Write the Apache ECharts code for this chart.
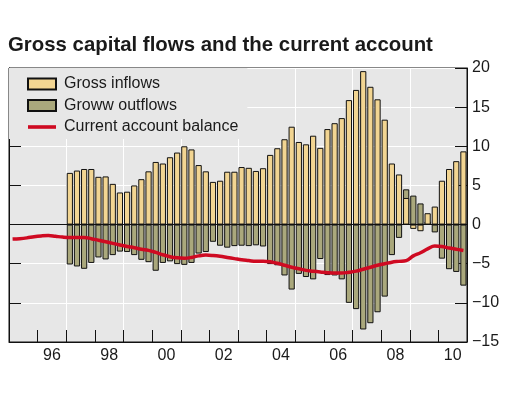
<!DOCTYPE html>
<html>
<head>
<meta charset="utf-8">
<script src="https://cdn.jsdelivr.net/npm/echarts@6/dist/echarts.min.js"></script>
<style>
html,body{margin:0;padding:0;background:#fff;}
#chart{width:512px;height:395px;}
</style>
</head>
<body>
<div id="chart"></div>
<script>
// ---- data ----
const years = ['1995','1996','1997','1998','1999','2000','2001','2002','2003','2004','2005','2006','2007','2008','2009','2010'];
const yearLabels = ['95','96','97','98','99','00','01','02','03','04','05','06','07','08','09','10'];
const quarterNames = ['Q1','Q2','Q3','Q4'];
const barStart = '1997Q1';

// Gross inflows, 1997Q1 - 2010Q4 (% of GDP)
const grossInflows = [
  6.6, 6.9, 7.1, 7.1,   6.1, 6.15, 5.2, 4.1,   4.2, 5.0, 5.8, 6.8,   8.0, 7.8, 8.6, 9.2,
  10.0, 9.6, 7.6, 6.8,  5.45, 5.6, 6.75, 6.75, 7.35, 7.25, 6.85, 7.2, 8.9, 9.75, 10.9, 12.5,
  10.55, 10.25, 11.35, 9.8, 12.2, 12.95, 13.6, 15.9, 17.2, 19.6, 17.6, 16.0, 13.4, 7.8, 6.4, 3.4,
  -0.55, -0.85, 1.45, 2.3, 5.6, 7.1, 8.1, 9.35
];
// Gross outflows, 1997Q1 - 2010Q4
const grossOutflows = [
  -5.1, -5.35, -5.65, -4.9,  -4.2, -4.45, -3.9, -3.45,  -3.5, -3.9, -4.5, -4.8,  -5.9, -4.9, -4.7, -5.05,
  -5.15, -4.9, -3.7, -3.5,  -2.2, -2.7, -2.95, -2.75,  -2.7, -2.75, -2.65, -2.8,  -5.05, -5.2, -6.5, -8.3,
  -6.3, -6.7, -7.0, -4.4,  -6.45, -6.5, -7.0, -10.0,  -10.8, -13.4, -12.6, -11.2,  -9.2, -3.9, -1.7, 4.5,
  3.7, 2.7, 0.4, -1.0,  -4.35, -5.7, -6.05, -7.8
];
// Current account balance, 1995Q1 - 2010Q4
const currentAccount = [
  -1.85, -1.8, -1.7, -1.55,  -1.45, -1.4, -1.5, -1.6,  -1.65, -1.65, -1.65, -1.8,  -2.0, -2.2, -2.4, -2.6,
  -2.8, -2.95, -3.15, -3.3,  -3.55, -3.85, -4.1, -4.25,  -4.3, -4.2, -4.0, -3.9,  -3.95, -4.05, -4.2, -4.35,
  -4.5, -4.6, -4.7, -4.7,  -4.75, -4.95, -5.2, -5.45,  -5.65, -5.85, -5.95, -6.05,  -6.15, -6.2, -6.2, -6.1,
  -5.95, -5.7, -5.45, -5.2,  -5.0, -4.8, -4.7, -4.6,  -4.0, -3.6, -3.1, -2.75,  -2.8, -3.0, -3.15, -3.3
];

// ---- build ----
const quarters = [];
years.forEach(y => quarterNames.forEach(q => quarters.push(y + q)));
const pad = quarters.indexOf(barStart);
const padArr = new Array(pad).fill(null);
const inflowData = padArr.concat(grossInflows);
const outflowData = padArr.concat(grossOutflows);

const W = 512, H = 395;
const GRID = {left: 9, right: 45, top: 68, bottom: 53};
const PLOT_BG = '#e7e7e7';
const FONT = 'Liberation Sans, Arial, sans-serif';
const TXT = '#1a1a1a';
const RED = '#cf0a22';
const TICK_LEN = 12;
const chart = echarts.init(document.getElementById('chart'), null, {renderer: 'canvas', width: W, height: H});

chart.setOption({
  animation: false,
  backgroundColor: '#ffffff',
  graphic: [{
    // plot-area background, drawn beneath axes and grid lines
    type: 'rect', z: -10, silent: true,
    left: GRID.left, top: GRID.top,
    shape: {width: W - GRID.left - GRID.right, height: H - GRID.top - GRID.bottom},
    style: {fill: PLOT_BG}
  }],
  title: {
    text: 'Gross capital flows and the current account',
    left: 3, top: 30,
    textStyle: {fontFamily: FONT, fontSize: 20.4, fontWeight: 'bold', color: TXT}
  },
  legend: {
    data: [
      {name: 'Gross inflows', icon: 'rect'},
      {name: 'Groww outflows', icon: 'rect'},
      {name: 'Current account balance', icon: 'path://M0,0 L28,0 L28,3.6 L0,3.6 Z', itemStyle: {color: RED, borderWidth: 0}, lineStyle: {width: 0}}
    ],
    orient: 'vertical',
    left: 9, top: 68, z: 5,
    padding: [8, 9, 4, 18],
    backgroundColor: PLOT_BG,
    itemWidth: 28, itemHeight: 11, itemGap: 5.5,
    textStyle: {fontFamily: FONT, fontSize: 16, color: TXT, padding: [0, 0, 0, 3]}
  },
  grid: {
    left: GRID.left, right: GRID.right, top: GRID.top, bottom: GRID.bottom,
    show: true, backgroundColor: 'transparent', borderColor: '#111', borderWidth: 1
  },
  xAxis: [
    {
      // quarterly axis: carries the marks, year ticks and two-yearly white grid lines
      type: 'category', data: quarters, boundaryGap: true, position: 'bottom',
      axisLine: {show: true, onZero: false, lineStyle: {color: '#111', width: 1}},
      axisTick: {show: true, inside: true, length: TICK_LEN, interval: 3, lineStyle: {color: '#111', width: 1}},
      axisLabel: {show: false},
      splitLine: {show: true, interval: 7, lineStyle: {color: '#ffffff', width: 1}}
    },
    {
      // year labels centred on each year
      type: 'category', data: yearLabels, boundaryGap: true, position: 'bottom',
      axisLine: {show: false, onZero: false}, axisTick: {show: false}, splitLine: {show: false},
      axisLabel: {
        show: true, margin: 6, interval: (i) => i % 2 === 1,
        fontFamily: FONT, fontSize: 16, color: TXT
      }
    }
  ],
  yAxis: [
    {
      type: 'value', position: 'right', min: -15, max: 20, interval: 5,
      axisLine: {show: true, lineStyle: {color: '#111'}},
      axisTick: {show: true, inside: true, length: TICK_LEN, lineStyle: {color: '#111'}},
      axisLabel: {
        margin: 5, fontFamily: FONT, fontSize: 16, color: TXT,
        formatter: (v) => (v < 0 ? '\u2212' + Math.abs(v) : String(v))
      },
      splitLine: {show: true, lineStyle: {color: '#ffffff', width: 1}}
    },
    {
      type: 'value', position: 'left', min: -15, max: 20, interval: 5,
      axisLine: {show: true, lineStyle: {color: '#111'}},
      axisTick: {show: true, inside: true, length: TICK_LEN, lineStyle: {color: '#111'}},
      axisLabel: {show: false},
      splitLine: {show: false}
    }
  ],
  series: [
    {
      name: 'Groww outflows', type: 'bar', data: outflowData,
      xAxisIndex: 0, yAxisIndex: 0,
      barWidth: 6.2, barGap: '-100%',
      itemStyle: {color: '#aaa87c', borderColor: '#111', borderWidth: 1},
      markLine: {
        silent: true, symbol: 'none', label: {show: false},
        lineStyle: {color: '#111', width: 1, type: 'solid'},
        data: [{yAxis: 0}]
      }
    },
    {
      name: 'Gross inflows', type: 'bar', data: inflowData,
      xAxisIndex: 0, yAxisIndex: 0,
      barWidth: 6.2, barGap: '-100%',
      itemStyle: {color: '#f2d592', borderColor: '#111', borderWidth: 1}
    },
    {
      name: 'Current account balance', type: 'line', data: currentAccount,
      xAxisIndex: 0, yAxisIndex: 0, z: 3,
      smooth: 0.4, symbol: 'none',
      lineStyle: {color: RED, width: 3.5},
      itemStyle: {color: RED}
    }
  ]
});
</script>
</body>
</html>
